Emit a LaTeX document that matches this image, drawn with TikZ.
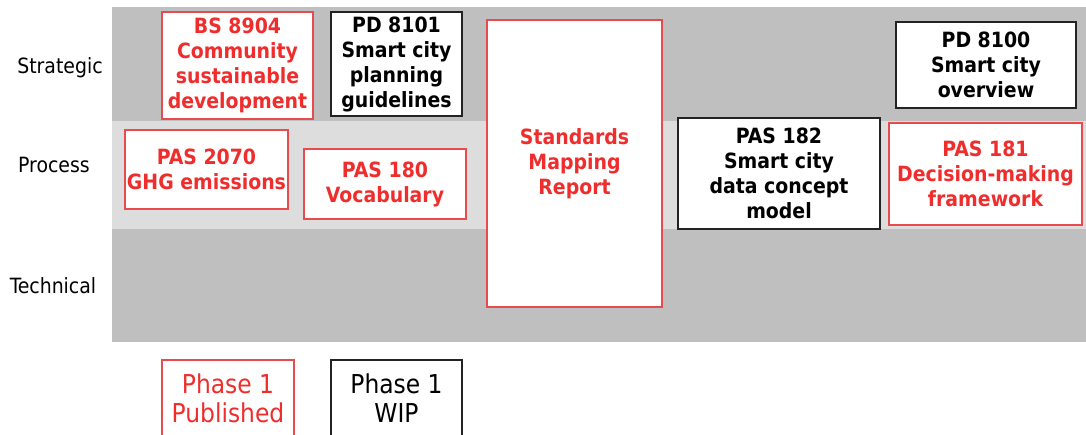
\documentclass[tikz,border=0pt]{standalone}
\usepackage{fontspec}
\setmainfont{DejaVu Sans Condensed}
\usetikzlibrary{positioning}

\definecolor{bandDark}{RGB}{191,191,191}
\definecolor{bandLight}{RGB}{221,221,221}
\definecolor{stdRed}{RGB}{240,45,45}
\definecolor{frameRed}{RGB}{232,75,75}
\definecolor{frameBlack}{RGB}{35,35,35}

\begin{document}
\begin{tikzpicture}[x=1pt,y=-1pt]
    \tikzstyle{layer}=[font=\fontsize{21}{24}\selectfont]
    \tikzstyle{standard}=[rectangle,fill=white,line width=1.5pt,align=center,inner sep=0pt,font=\fontsize{21}{25}\selectfont\bfseries]
    \tikzstyle{published}=[standard,draw=frameRed,text=stdRed]
    \tikzstyle{wip}=[standard,draw=frameBlack,text=black]
    \tikzstyle{legend}=[font=\fontsize{26}{29}\selectfont\mdseries]

    \useasboundingbox (0,0) rectangle (1086,434);
    \clip (0,0) rectangle (1086,434);

    % layer bands
    \fill[bandDark] (112,7) rectangle (1086,121);
    \fill[bandLight] (112,121) rectangle (1086,229);
    \fill[bandDark] (112,229) rectangle (1086,342);

    \node[layer] (strategic) at (60,68) {Strategic};
    \node[layer] (process) at (54,165) {Process};
    \node[layer] (technical) at (53,286) {Technical};

    % strategic
    \node[published, minimum width=151pt, minimum height=107pt] (bsCommunity) at (237.5,65.5) {BS 8904\\Community\\sustainable\\development};
    \node[wip, minimum width=131pt, minimum height=104pt] (pdPlanning) at (396.5,64) {PD 8101\\Smart city\\planning\\guidelines};
    \node[wip, minimum width=180pt, minimum height=86pt] (pdOverview) at (986,65) {PD 8100\\Smart city\\overview};

    % process
    \node[published, minimum width=163pt, minimum height=79pt] (pasGhg) at (206.5,169.5) {PAS 2070\\GHG emissions};
    \node[published, minimum width=162pt, minimum height=70pt] (pasVocab) at (385,184) {PAS 180\\Vocabulary};
    \node[wip, minimum width=202pt, minimum height=111pt] (pasDataModel) at (779,173.5) {PAS 182\\Smart city\\data concept\\model};
    \node[published, minimum width=193pt, minimum height=102pt] (pasDecision) at (985.5,174) {PAS 181\\Decision-making\\framework};

    % spans all layers
    \node[published, minimum width=175pt, minimum height=287pt] (mappingReport) at (574.5,163.5) {Standards\\Mapping\\Report};

    % key
    \node[published, legend, minimum width=132pt, minimum height=76pt] (phasePublished) at (228,398) {Phase 1\\Published};
    \node[wip, legend, minimum width=131pt, minimum height=76pt] (phaseWip) at (396.5,398) {Phase 1\\WIP};
\end{tikzpicture}
\end{document}
